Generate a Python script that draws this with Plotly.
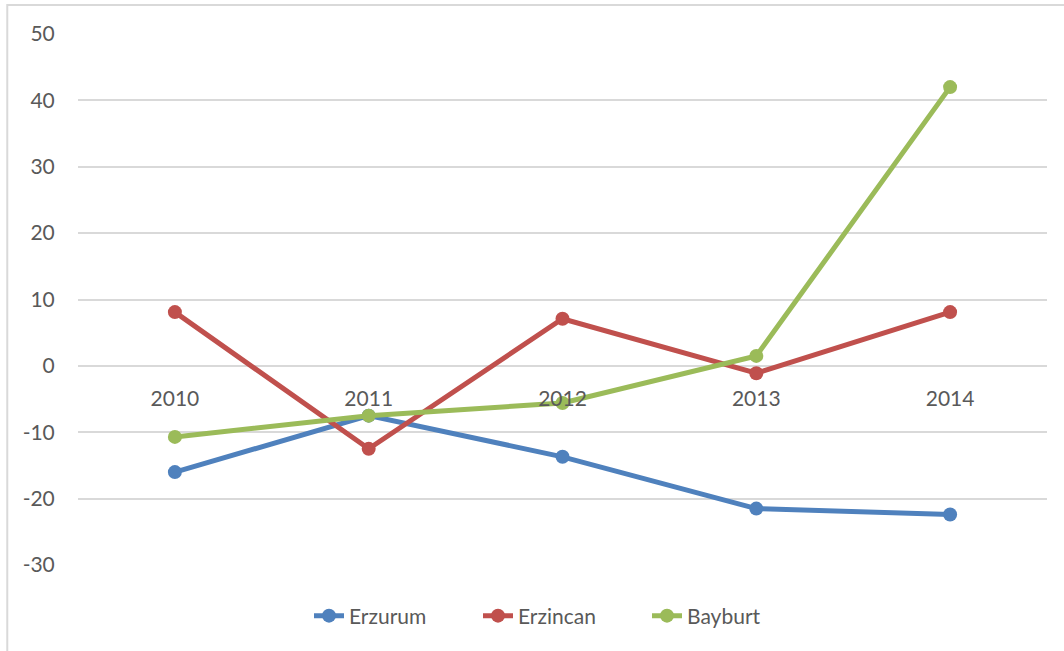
import plotly.graph_objects as go

YEARS = ["2010", "2011", "2012", "2013", "2014"]
ERZURUM = [-16.0, -7.5, -13.7, -21.5, -22.4]
ERZINCAN = [8.1, -12.5, 7.1, -1.1, 8.1]
BAYBURT = [-10.7, -7.5, -5.6, 1.5, 42.0]
Y_TICKS = [-30, -20, -10, 0, 10, 20, 30, 40, 50]
Y_LABELS = ["-30", "-20", "-10", "0", "10", "20", "30", "40", "50"]

SERIES = [
    ("Erzurum", ERZURUM, "#4F81BD"),
    ("Erzincan", ERZINCAN, "#C0504D"),
    ("Bayburt", BAYBURT, "#9BBB59"),
]

TEXT = "#595959"
GRID = "#d9d9d9"

fig = go.Figure()
for name, vals, color in SERIES:
    fig.add_trace(go.Scatter(
        x=YEARS, y=vals, name=name, mode="lines+markers",
        line=dict(color=color, width=5),
        marker=dict(color=color, size=14),
    ))

# chart-area border (only top and left edges fall inside the window)
fig.add_shape(
    type="rect", xref="paper", yref="paper",
    x0=-0.073, x1=1.2, y0=-0.4, y1=1.0546,
    line=dict(color=GRID, width=2), fillcolor="rgba(0,0,0,0)", layer="below",
)

fig.update_layout(
    width=1064, height=651,
    paper_bgcolor="white", plot_bgcolor="white",
    font=dict(family="Lato, Open Sans, sans-serif", size=21, color=TEXT),
    margin=dict(l=78, r=17, t=34, b=86),
    showlegend=True,
    legend=dict(orientation="h", x=0.5, xanchor="center", y=-0.096, yanchor="middle",
                font=dict(size=21, color=TEXT), entrywidth=124),
    xaxis=dict(
        type="category", range=[-0.5, 4.5], anchor="free", position=0.375,
        showgrid=False, showline=False, zeroline=False, ticks="",
        ticklabelstandoff=18,
    ),
    yaxis=dict(
        range=[-30, 50], tickvals=Y_TICKS, ticktext=Y_LABELS,
        showgrid=True, gridcolor=GRID, gridwidth=1.5,
        zeroline=False, showline=False, ticks="outside", ticklen=18,
        tickcolor="rgba(0,0,0,0)",
    ),
)

fig.write_html("out.html", config={"displayModeBar": False},
               post_script="document.body.style.margin='0';")
